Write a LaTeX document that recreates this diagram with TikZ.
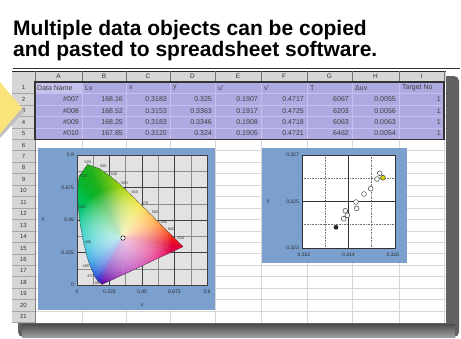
\documentclass[tikz,border=0pt]{standalone}
\usepackage{fontspec}
\setmainfont{Liberation Sans}
\usetikzlibrary{calc}
\definecolor{sheetpurple}{RGB}{172,170,224}
\definecolor{sheetpurplel}{RGB}{196,194,236}
\definecolor{hdrgray}{RGB}{214,214,214}
\definecolor{gridc}{RGB}{215,215,215}
\definecolor{chartblue}{RGB}{124,160,206}
\definecolor{plotgray}{RGB}{226,226,226}
\definecolor{arrowyellow}{RGB}{250,228,122}
\definecolor{cl1}{RGB}{90,0,170}
\definecolor{cl2}{RGB}{40,30,200}
\definecolor{cl3}{RGB}{20,70,215}
\definecolor{cl4}{RGB}{0,120,220}
\definecolor{cl5}{RGB}{0,160,220}
\definecolor{cl6}{RGB}{0,190,205}
\definecolor{cl7}{RGB}{0,200,160}
\definecolor{cl8}{RGB}{0,195,110}
\definecolor{cl9}{RGB}{0,190,70}
\definecolor{cl10}{RGB}{10,180,40}
\definecolor{cl11}{RGB}{30,175,30}
\definecolor{cl12}{RGB}{70,185,25}
\definecolor{cl13}{RGB}{110,195,20}
\definecolor{cl14}{RGB}{160,210,10}
\definecolor{cl15}{RGB}{205,220,0}
\definecolor{cl16}{RGB}{245,220,0}
\definecolor{cl17}{RGB}{255,170,0}
\definecolor{cl18}{RGB}{255,120,0}
\definecolor{cl19}{RGB}{250,70,10}
\definecolor{cl20}{RGB}{240,20,30}
\definecolor{cl21}{RGB}{225,0,45}
\definecolor{cl22}{RGB}{225,0,120}
\definecolor{cl23}{RGB}{160,0,165}
\tikzset{
  celltxt/.style={font=\fontsize{7}{7}\selectfont, text=black!75, inner sep=0pt},
  cellnum/.style={celltxt, anchor=east},
  cellhead/.style={celltxt, anchor=west},
  colhead/.style={font=\fontsize{6.5}{6.5}\selectfont, text=black!80, inner sep=0pt},
  rownum/.style={font=\fontsize{6}{6}\selectfont, text=black!80, inner sep=0pt},
  ticklab/.style={font=\fontsize{5}{5}\selectfont, text=black!85, inner sep=0pt},
  wavelab/.style={font=\fontsize{3.8}{4}\selectfont, text=black!80, inner sep=0.5pt},
  titletxt/.style={font=\fontsize{21}{21}\selectfont\bfseries, anchor=base west, inner sep=0pt},
  datapt/.style={draw=black!75, fill=white, line width=0.5pt},
}
\begin{document}
\begin{tikzpicture}[x=1pt,y=-1pt]
\useasboundingbox (0,0) rectangle (461,338);
\fill[white] (0,0) rectangle (461,338);
% title
\node[titletxt] (t1) at (13,35) {Multiple data objects can be copied};
\node[titletxt] (t2) at (13,56) {and pasted to spreadsheet software.};
\draw[black!80, line width=1.2pt] (13,68.5) -- (460,68.5);
% shadow of the sheet
\fill[black!62, rounded corners=5pt] (18,76) rectangle (459,337);
\shade[top color=black!70, bottom color=black!38] (22,324) rectangle (455,337);
% sheet
\fill[white] (12,71) rectangle (446,323);
\foreach \x in {82,126,170,215,261,307,352,399,444}
  \draw[gridc, line width=0.6pt] (\x,82) -- (\x,323);
\foreach \i in {1,...,20}
  \draw[gridc, line width=0.6pt] (35,{82+11.45*\i}) -- (446,{82+11.45*\i});
% header row
\fill[hdrgray] (12,71) rectangle (446,82);
\draw[black!85, line width=1pt] (12,71) -- (446,71);
\foreach \x in {35,82,126,170,215,261,307,352,399,444}
  \draw[black!55, line width=0.7pt] (\x,71) -- (\x,82);
\foreach \c/\x in {A/58.5,B/104,C/148,D/192.5,E/238,F/284,G/329.5,H/375.5,I/421.5}
  \node[colhead] (h\c) at (\x,76.5) {\c};
% row numbers
\fill[hdrgray] (12,82) rectangle (35,323);
\foreach \i in {1,...,21}{
  \draw[black!35, line width=0.5pt] (12,{82+11.45*\i}) -- (35,{82+11.45*\i});
  \node[rownum] (r\i) at (23.5,{82+11.45*(\i-0.5)}) {\i};
}
\draw[black!50, line width=0.6pt] (35,82) -- (35,323);
% purple data block
\fill[sheetpurple] (35,82) rectangle (444,139.25);
\fill[sheetpurplel] (35.5,82.5) rectangle (81.5,93.2);
\foreach \x in {82,126,170,215,261,307,352,399}
  \draw[sheetpurplel, line width=0.5pt] (\x,82) -- (\x,139.25);
\foreach \i in {1,...,4}
  \draw[sheetpurplel, line width=0.5pt] (35,{82+11.45*\i}) -- (444,{82+11.45*\i});
\draw[black!80, line width=1.3pt] (35,82) rectangle (444,139.25);
% row 1 labels
\node[cellhead] (c1a) at (37,87.7) {Data Name};
\node[cellhead] (c1b) at (85,87.7) {Lv};
\node[cellhead] (c1c) at (129,87.7) {x};
\node[cellhead] (c1d) at (173,87.7) {y};
\node[cellhead] (c1e) at (218,87.7) {u'};
\node[cellhead] (c1f) at (264,87.7) {v'};
\node[cellhead] (c1g) at (310,87.7) {T};
\node[cellhead] (c1h) at (355,87.7) {Δuv};
\node[cellhead] (c1i) at (402,87.7) {Target No};
% data rows
\foreach \r/\va/\vb/\vc/\vd/\ve/\vf/\vg/\vh/\vi in {
  2/{\#007}/168.16/0.3183/0.325/0.1907/0.4717/6067/0.0055/1,
  3/{\#008}/168.52/0.3153/0.3363/0.1917/0.4725/6203/0.0056/1,
  4/{\#009}/168.25/0.3183/0.3346/0.1908/0.4718/6063/0.0063/1,
  5/{\#010}/167.85/0.3120/0.324/0.1905/0.4721/6462/0.0054/1}{
  \pgfmathsetmacro\yy{82+11.45*(\r-0.5)}
  \node[cellnum] (c\r a) at (79,\yy) {\va};
  \node[cellnum] (c\r b) at (123,\yy) {\vb};
  \node[cellnum] (c\r c) at (167,\yy) {\vc};
  \node[cellnum] (c\r d) at (212,\yy) {\vd};
  \node[cellnum] (c\r e) at (258,\yy) {\ve};
  \node[cellnum] (c\r f) at (304,\yy) {\vf};
  \node[cellnum] (c\r g) at (349,\yy) {\vg};
  \node[cellnum] (c\r h) at (396,\yy) {\vh};
  \node[cellnum] (c\r i) at (441,\yy) {\vi};
}
% ---------- chart 1 ----------
\fill[chartblue] (38,148) rectangle (215,310);
\begin{scope}[shift={(77,285)}, x=144.444pt, y=144.444pt]
  \fill[plotgray] (0,0) rectangle (0.9,0.9);
  \foreach \v in {0.1125,0.3375,0.5625,0.7875}{
    \draw[black!45, line width=0.5pt] (\v,0) -- (\v,0.9);
    \draw[black!45, line width=0.5pt] (0,\v) -- (0.9,\v);
  }
  \foreach \v in {0.225,0.45,0.675}{
    \draw[black!75, line width=0.8pt] (\v,0) -- (\v,0.9);
    \draw[black!75, line width=0.8pt] (0,\v) -- (0.9,\v);
  }
  \coordinate (W) at (0.3127,0.329);
  \coordinate (L1) at (0.1741,0.0050);
  \coordinate (L2) at (0.1440,0.0297);
  \coordinate (L3) at (0.1241,0.0578);
  \coordinate (L4) at (0.0913,0.1327);
  \coordinate (L5) at (0.0687,0.2007);
  \coordinate (L6) at (0.0454,0.2950);
  \coordinate (L7) at (0.0235,0.4127);
  \coordinate (L8) at (0.0082,0.5384);
  \coordinate (L9) at (0.0039,0.6548);
  \coordinate (L10) at (0.0139,0.7502);
  \coordinate (L11) at (0.0743,0.8338);
  \coordinate (L12) at (0.1547,0.8059);
  \coordinate (L13) at (0.2296,0.7543);
  \coordinate (L14) at (0.3016,0.6923);
  \coordinate (L15) at (0.3731,0.6245);
  \coordinate (L16) at (0.4441,0.5547);
  \coordinate (L17) at (0.5125,0.4866);
  \coordinate (L18) at (0.5752,0.4242);
  \coordinate (L19) at (0.6270,0.3725);
  \coordinate (L20) at (0.6915,0.3083);
  \coordinate (L21) at (0.7347,0.2653);
  \coordinate (L22) at (0.5500,0.1800);
  \coordinate (L23) at (0.3600,0.0900);
  \begin{scope}
    \clip (L1) -- (L2) -- (L3) -- (L4) -- (L5) -- (L6) -- (L7) -- (L8) -- (L9) -- (L10) -- (L11) -- (L12) -- (L13) -- (L14) -- (L15) -- (L16) -- (L17) -- (L18) -- (L19) -- (L20) -- (L21) -- (L22) -- (L23) -- cycle;
    \foreach \i/\j in {1/2,2/3,3/4,4/5,5/6,6/7,7/8,8/9,9/10,10/11,11/12,12/13,13/14,14/15,15/16,16/17,17/18,18/19,19/20,20/21,21/22,22/23,23/1}{
      \foreach \t in {0,1,2,3}{
        \pgfmathsetmacro\ta{\t/4}
        \pgfmathsetmacro\tb{(\t+1)/4}
        \pgfmathtruncatemacro\mx{88-25*\t}
        \filldraw[fill=cl\i!\mx!cl\j, draw=cl\i!\mx!cl\j, line width=0.4pt, line join=round]
          (W) -- ($(L\i)!\ta!(L\j)$) -- ($(L\i)!\tb!(L\j)$) -- cycle;
      }
    }
    \foreach \rr in {0.34,0.32,...,0.02}
      \fill[white, opacity=0.085] (W) circle (\rr);
  \end{scope}
  \draw[black!75, densely dotted, line width=0.7pt] (L1) -- (L2) -- (L3) -- (L4) -- (L5) -- (L6) -- (L7) -- (L8) -- (L9) -- (L10) -- (L11) -- (L12) -- (L13) -- (L14) -- (L15) -- (L16) -- (L17) -- (L18) -- (L19) -- (L20) -- (L21) -- (L22) -- (L23) -- cycle;
  \draw[black!75, line width=0.7pt] (0,0) rectangle (0.9,0.9);
  \draw[black, fill=white, line width=0.5pt] (0.3183,0.325) circle (2.2pt);
  % wavelength labels
  \node[wavelab, anchor=south] (w520) at (0.075,0.838) {520};
  \node[wavelab, anchor=south west] (w530) at (0.155,0.806) {530};
  \node[wavelab, anchor=south west] (w540) at (0.230,0.754) {540};
  \node[wavelab, anchor=south west] (w550) at (0.302,0.692) {550};
  \node[wavelab, anchor=south west] (w560) at (0.373,0.625) {560};
  \node[wavelab, anchor=south west] (w570) at (0.444,0.555) {570};
  \node[wavelab, anchor=south west] (w580) at (0.513,0.487) {580};
  \node[wavelab, anchor=south west] (w590) at (0.575,0.424) {590};
  \node[wavelab, anchor=south west] (w600) at (0.627,0.373) {600};
  \node[wavelab, anchor=south west] (w620) at (0.692,0.308) {620};
  \node[wavelab, anchor=west] (w510) at (0.020,0.750) {510};
  \node[wavelab, anchor=west] (w500) at (0.012,0.538) {500};
  \node[wavelab, anchor=west] (w490) at (0.050,0.295) {490};
  \node[wavelab, anchor=east] (w480) at (0.088,0.133) {480};
  \node[wavelab, anchor=east] (w470) at (0.120,0.058) {470};
  \node[wavelab, anchor=east] (w380) at (0.170,0.012) {380};
  % tick labels
  \foreach \v/\l in {0/0,0.225/0.225,0.45/0.45,0.675/0.675,0.9/0.9}{
    \node[ticklab, anchor=east] (ya\l) at (-0.02,\v) {\l};
    \node[ticklab, anchor=north] (xa\l) at (\v,-0.035) {\l};
  }
\end{scope}
\node[ticklab] (yl1) at (43,220) {y};
\node[ticklab] (xl1) at (142,305) {x};
% ---------- chart 2 ----------
\fill[chartblue] (262,148) rectangle (407,263);
\fill[white] (302,155) rectangle (395,248);
\foreach \x in {325.25,371.75}
  \draw[black!55, densely dotted, line width=0.6pt] (\x,155) -- (\x,248);
\foreach \y in {178.25,224.75}
  \draw[black!55, densely dotted, line width=0.6pt] (302,\y) -- (395,\y);
\draw[black!80, line width=0.9pt] (348.5,155) -- (348.5,248);
\draw[black!80, line width=0.9pt] (302,201.5) -- (395,201.5);
\draw[black!80, line width=0.9pt] (302,155) rectangle (395,248);
\foreach \px/\py [count=\k] in {379.7/173.3,377/179,370.7/188.7,364/194,356/202,356.7/208.3,345.3/210.7,347.3/215.3,343.7/218.7}
  \draw[datapt] (\px,\py) circle (2.4pt) coordinate (p\k);
\draw[datapt, fill=yellow!70!olive] (383,177.7) circle (2.4pt) coordinate (pyel);
\fill[black!85] (336,227.3) circle (2.4pt) coordinate (pblk);
\node[ticklab, anchor=east] (y327) at (299,155) {0.327};
\node[ticklab, anchor=east] (y325) at (299,201.5) {0.325};
\node[ticklab, anchor=east] (y323) at (299,248) {0.323};
\node[ticklab, anchor=north] (x312) at (304,253) {0.312};
\node[ticklab, anchor=north] (x314) at (348.5,253) {0.314};
\node[ticklab, anchor=north] (x316) at (393,253) {0.316};
\node[ticklab] (yl2) at (268,202) {y};
% ---------- yellow arrow ----------
\fill[black!25] (0,87) -- (24,112) -- (0,138) -- cycle;
\fill[arrowyellow] (0,82) -- (22,108) -- (0,134) -- cycle;
\end{tikzpicture}
\end{document}
